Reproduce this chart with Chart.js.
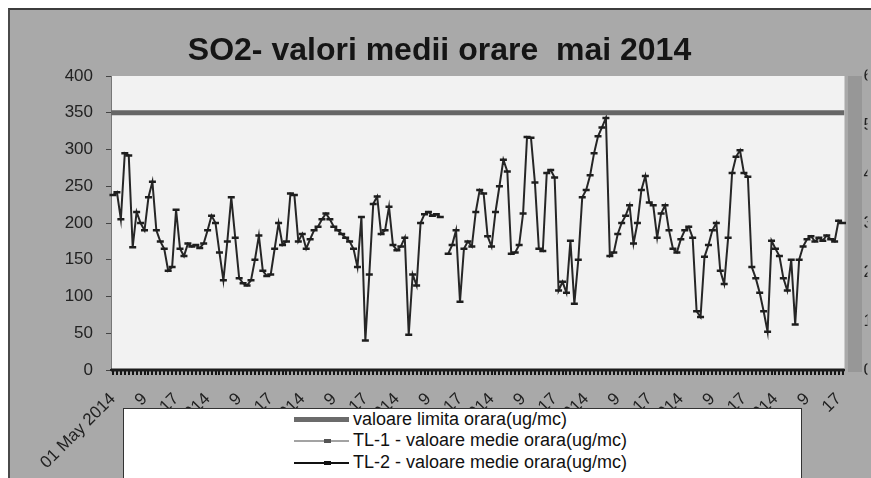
<!DOCTYPE html>
<html>
<head>
<meta charset="utf-8">
<script src="https://cdn.jsdelivr.net/npm/chart.js@4.4.1/dist/chart.umd.min.js"></script>
<style>
  html, body { margin: 0; padding: 0; background: #fff; overflow: hidden; }
  #frame {
    position: absolute; left: 8px; top: 8px; width: 863px; height: 470px;
    background: #a9a9a9; border-top: 2px solid #3c3c3c; border-left: 2px solid #4a4a4a;
    box-sizing: border-box;
  }
  #strip { position: absolute; left: 848px; top: 76px; width: 14px; height: 296px; background: #979797; }
  #chart-box { position: absolute; left: 0; top: 0; width: 871px; height: 478px; }
  #legend {
    position: absolute; left: 123px; top: 408px; width: 679px; height: 80px;
    background: #fff; border: 1px solid #333; box-sizing: border-box;
    font: 18px "Liberation Sans", Arial, sans-serif; color: #111;
  }
  .row { position: absolute; left: 170px; height: 21px; width: 400px; }
  .sample { position: absolute; left: 0; top: 50%; width: 55px; }
  .mark { position: absolute; left: 30px; top: -1px; width: 7px; height: 4px; }
  .txt { position: absolute; left: 59px; top: 0; line-height: 21px; white-space: nowrap; }
</style>
</head>
<body>
<div id="frame"></div>
<div id="strip"></div>
<div id="chart-box"><canvas id="so2-chart" width="871" height="478"></canvas></div>
<div id="legend">
  <div class="row" style="top:0px">
    <span class="sample" style="height:5px;margin-top:-2.5px;background:#6b6b6b"></span>
    <span class="txt">valoare limita orara(ug/mc)</span>
  </div>
  <div class="row" style="top:21px">
    <span class="sample" style="height:2px;margin-top:-1px;background:#a3a3a3"><span class="mark" style="background:#555"></span></span>
    <span class="txt">TL-1 - valoare medie orara(ug/mc)</span>
  </div>
  <div class="row" style="top:43px">
    <span class="sample" style="height:2px;margin-top:-1px;background:#111"><span class="mark" style="background:#111"></span></span>
    <span class="txt">TL-2 - valoare medie orara(ug/mc)</span>
  </div>
</div>
<script>
// Axis labels
const dayLabels = [
  "01 May 2014", "02 May 2014", "03 May 2014", "04 May 2014",
  "05 May 2014", "06 May 2014", "07 May 2014", "08 May 2014",
];
const hourTickLabels = ["9", "17"];
const rightAxisLabels = ["0", "1", "2", "3", "4", "5", "6"];

// Hourly limit value (ug/mc)
const limitValue = 350;
// TL-1 stays on the zero line for the whole period
const tl1Value = 0;

// TL-2 hourly averages, one array per day (null = missing hour)
const tl2Day1 = [238, 242, 205, 295, 292, 167, 215, 200, 190, 235, 256, 190, 175, 165, 135, 140, 218, 165, 155, 172, 168, 170, 166, 172];
const tl2Day2 = [190, 210, 200, 160, 122, 175, 235, 180, 125, 118, 115, 122, 150, 183, 135, 128, 130, 165, 200, 170, 175, 240, 238, 175];
const tl2Day3 = [185, 165, 178, 190, 195, 205, 213, 205, 195, 190, 185, 180, 175, 165, 140, 208, 40, 130, 226, 236, 185, 190, 222, 170];
const tl2Day4 = [163, 168, 180, 48, 130, 115, 200, 212, 215, 210, 212, 208, null, 158, 170, 190, 93, 165, 175, 168, 215, 245, 240, 182];
const tl2Day5 = [168, 215, 250, 286, 270, 158, 160, 170, 213, 317, 316, 255, 165, 162, 268, 272, 262, 108, 120, 105, 176, 90, 150, 235];
const tl2Day6 = [245, 265, 295, 318, 330, 343, 155, 160, 185, 200, 210, 224, 172, 200, 245, 264, 228, 224, 180, 213, 224, 190, 165, 160];
const tl2Day7 = [178, 190, 195, 180, 80, 72, 154, 170, 190, 200, 135, 117, 180, 268, 290, 299, 268, 263, 140, 125, 105, 80, 52, 176];
const tl2Day8 = [165, 155, 125, 108, 150, 62, 150, 168, 178, 182, 175, 180, 176, 183, 178, 175, 203, 200];

const tl2Days = [tl2Day1, tl2Day2, tl2Day3, tl2Day4, tl2Day5, tl2Day6, tl2Day7, tl2Day8];

// Build the category labels: date at the first hour, then 9 and 17
const labels = [];
const tl2Values = [];
tl2Days.forEach((day, d) => {
  day.forEach((value, i) => {
    let label = "";
    if (i === 0) label = dayLabels[d];
    else if (i === 8) label = hourTickLabels[0];
    else if (i === 16) label = hourTickLabels[1];
    labels.push(label);
    tl2Values.push(value);
  });
});

const FONT = '"Liberation Sans", Arial, sans-serif';

// Light plot area like the Excel original
const plotBackground = {
  id: "plotBackground",
  beforeDraw(chart) {
    const { ctx, chartArea } = chart;
    ctx.save();
    ctx.fillStyle = "#f2f2f2";
    ctx.fillRect(chartArea.left, chartArea.top, chartArea.right - chartArea.left, chartArea.bottom - chartArea.top);
    ctx.restore();
  },
};

const ctx = document.getElementById("so2-chart").getContext("2d");

new Chart(ctx, {
  type: "line",
  data: {
    labels: labels,
    datasets: [
      {
        label: "valoare limita orara(ug/mc)",
        data: [{ x: 0, y: limitValue }, { x: 1, y: limitValue }],
        xAxisID: "xFull",
        borderColor: "#666666",
        borderWidth: 5,
        pointRadius: 0,
      },
      {
        label: "TL-1 - valoare medie orara(ug/mc)",
        data: [{ x: 0, y: tl1Value }, { x: 1, y: tl1Value }],
        xAxisID: "xFull",
        borderColor: "#1c1c1c",
        borderWidth: 3,
        pointRadius: 0,
        clip: false,
      },
      {
        label: "TL-2 - valoare medie orara(ug/mc)",
        data: tl2Values,
        xAxisID: "x",
        borderColor: "#262626",
        borderWidth: 2,
        pointStyle: "line",
        pointRadius: 3.5,
        pointBorderWidth: 2.5,
        pointBorderColor: "#1e1e1e",
        spanGaps: false,
        tension: 0,
      },
    ],
  },
  options: {
    responsive: false,
    animation: false,
    devicePixelRatio: 1,
    layout: { padding: { top: 8, left: 8, right: 0, bottom: 0 } },
    scales: {
      x: {
        type: "category",
        offset: true,
        grid: {
          display: true,
          drawOnChartArea: false,
          drawTicks: true,
          tickLength: 5,
          color: "#151515",
          lineWidth: 2,
        },
        border: { display: true, color: "#222", width: 2 },
        ticks: {
          autoSkip: false,
          minRotation: 45,
          maxRotation: 45,
          padding: 14,
          color: "#222",
          font: { family: FONT, size: 17 },
        },
        afterFit(scale) {
          scale.height = 108;
        },
      },
      xFull: { type: "linear", min: 0, max: 1, display: false },
      y: {
        min: 0,
        max: 400,
        ticks: {
          stepSize: 50,
          padding: 13,
          color: "#222",
          font: { family: FONT, size: 17 },
        },
        grid: { drawOnChartArea: false, tickLength: 5, color: "#444" },
        border: { color: "#777" },
        afterFit(scale) {
          scale.width = 103;
        },
      },
      y2: {
        type: "linear",
        position: "right",
        display: true,
        min: 0,
        max: 6,
        ticks: {
          stepSize: 1,
          padding: 19,
          color: "#222",
          font: { family: FONT, size: 17 },
          callback: (value) => rightAxisLabels[value],
        },
        grid: { display: true, drawOnChartArea: false, drawTicks: false },
        border: { display: false },
        afterFit(scale) {
          scale.width = 23;
        },
      },
    },
    plugins: {
      legend: { display: false },
      tooltip: { enabled: false },
      title: {
        display: true,
        text: "SO2- valori medii orare  mai 2014",
        color: "#151515",
        font: { family: FONT, size: 32, weight: "bold" },
        padding: { top: 24, bottom: 5.6 },
      },
    },
  },
  plugins: [plotBackground],
});
</script>
</body>
</html>
